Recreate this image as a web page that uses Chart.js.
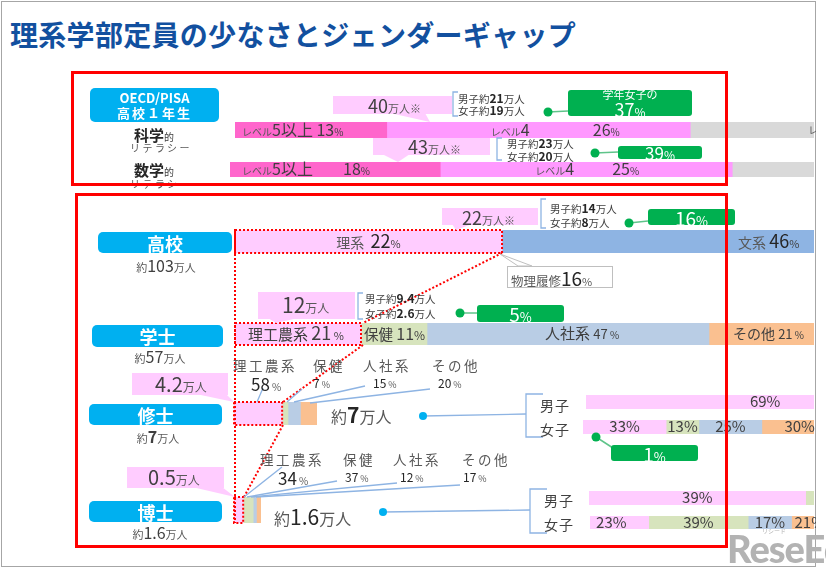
<!DOCTYPE html>
<html lang="ja">
<head>
<meta charset="UTF-8">
<title>理系学部定員の少なさとジェンダーギャップ</title>
<script src="https://cdn.jsdelivr.net/npm/chart.js"></script>
<style>
  body { margin: 0; background: #fff; font-family: "Noto Sans CJK JP", sans-serif; color: #404040; }
  #page { position: relative; width: 826px; height: 569px; overflow: hidden; }
  #page div, #page canvas, #page svg { position: absolute; }
  #page .tag div { position: static; }
  #bars, #notes { left: 0; top: 0; }
  .t { white-space: nowrap; line-height: 1; }
  .frame { border: 3px solid #ff0000; }
  .tag { background: #00b0f0; color: #fff; border-radius: 5px; font-weight: bold;
         display: flex; flex-direction: column; align-items: center; justify-content: center; text-align: center; }
  .pink { background: #ffccff; }
  .green { background: #00b050; color: #fff; border-radius: 3px; line-height: 1;
           display: flex; flex-direction: column; align-items: center; justify-content: center; }
</style>
</head>
<body>
<div id="page">
  <div style="left:1px;top:1px;width:813px;height:564px;border:1px solid #a6a6a6"></div>
  <div class="t" style="left:10px;top:20px;font-size:28px;font-weight:bold;color:#12509f;letter-spacing:0.3px">理系学部定員の少なさとジェンダーギャップ</div>

  <!-- pink callouts -->
  <div class="pink" style="left:333px;top:96px;width:119px;height:18px"></div>
  <div class="pink" style="left:373px;top:136px;width:117px;height:19px"></div>
  <div class="pink" style="left:442px;top:208px;width:96px;height:17px"></div>
  <div class="pink" style="left:258px;top:292px;width:97px;height:27px"></div>
  <div class="pink" style="left:132px;top:373px;width:96px;height:22px"></div>
  <div class="pink" style="left:127px;top:467px;width:97px;height:21px"></div>

  <div id="bars"></div>

  <svg width="826" height="569" style="left:0;top:0">
    <g fill="#ffccff">
      <polygon points="390,113 425,113 430,122"/>
      <polygon points="382,154 410,154 398,162"/>
      <polygon points="452,224 472,224 456,230"/>
      <polygon points="268,318 298,318 276,323"/>
      <polygon points="196,394 226,394 234,402"/>
      <polygon points="192,487 222,487 235,497"/>
    </g>
    <g stroke="#ff0000" stroke-width="2" stroke-dasharray="2 2" fill="none">
      <line x1="235" y1="230" x2="235" y2="523"/>
      <line x1="502" y1="253" x2="363" y2="323"/>
      <line x1="363" y1="345" x2="283" y2="402"/>
      <line x1="283" y1="425" x2="244" y2="497"/>
    </g>
    <g stroke="#8eb4e3" stroke-width="1.3" fill="none">
      <path d="M458 92 H453 V116 H458"/>
      <path d="M502 138 H497 V160 H502"/>
      <path d="M546 199 H541 V228 H546"/>
      <path d="M363 293 H358 V319 H363"/>
      <path d="M543 394 H526 V437 H543"/>
      <path d="M547 489 H530 V533 H547"/>
      <line x1="423" y1="416" x2="526" y2="414"/>
      <line x1="383" y1="512" x2="530" y2="510"/>
      <line x1="263" y1="388" x2="257" y2="402"/>
      <line x1="302" y1="389" x2="287" y2="402"/>
      <line x1="365" y1="386" x2="294" y2="402"/>
      <line x1="430" y1="389" x2="310" y2="403"/>
      <line x1="282" y1="467" x2="244" y2="497"/>
      <line x1="337" y1="481" x2="247" y2="497"/>
      <line x1="397" y1="483" x2="251" y2="497"/>
      <line x1="460" y1="485" x2="256" y2="497"/>
    </g>
    <g fill="#00b0f0">
      <circle cx="423" cy="416" r="4"/>
      <circle cx="383" cy="512" r="4"/>
    </g>
    <g stroke="#5fc48a" stroke-width="1.5">
      <line x1="548" y1="112" x2="568" y2="111"/>
      <line x1="595" y1="153" x2="618" y2="152"/>
      <line x1="629" y1="223" x2="648" y2="221"/>
      <line x1="460" y1="313" x2="477" y2="313"/>
      <line x1="596" y1="437" x2="613" y2="448"/>
    </g>
    <g fill="#00b050">
      <circle cx="548" cy="112" r="4.5"/>
      <circle cx="595" cy="153" r="4.5"/>
      <circle cx="629" cy="223" r="4.5"/>
      <circle cx="460" cy="313" r="4.5"/>
      <circle cx="596" cy="437" r="4.5"/>
    </g>
    <polygon points="500,254 518,266 532,266" fill="#fff" stroke="#bfbfbf"/>
  </svg>

  <!-- stage tags -->
  <div class="tag" style="left:90px;top:88px;width:129px;height:34px;font-size:13px;line-height:15px">
    <div>OECD/PISA</div><div style="letter-spacing:2px">高校１年生</div>
  </div>
  <div class="tag" style="left:98px;top:232px;width:134px;height:21px;font-size:18px">高校</div>
  <div class="tag" style="left:92px;top:325px;width:131px;height:22px;font-size:18px">学士</div>
  <div class="tag" style="left:89px;top:404px;width:133px;height:21px;font-size:18px">修士</div>
  <div class="tag" style="left:89px;top:501px;width:133px;height:21px;font-size:18px">博士</div>

  <!-- green boxes -->
  <div class="green" style="left:568px;top:90px;width:124px;height:26px">
    <span style="font-size:11px">学年女子の</span>
    <span><span style="font-size:18px">37</span><span style="font-size:12px">%</span></span>
  </div>
  <div class="green" style="left:618px;top:146px;width:84px;height:13px"><span><span style="font-size:17px">39</span><span style="font-size:12px">%</span></span></div>
  <div class="green" style="left:648px;top:209px;width:87px;height:16px"><span><span style="font-size:19px">16</span><span style="font-size:13px">%</span></span></div>
  <div class="green" style="left:477px;top:305px;width:87px;height:17px"><span><span style="font-size:19px">5</span><span style="font-size:13px">%</span></span></div>
  <div class="green" style="left:611px;top:445px;width:87px;height:16px"><span><span style="font-size:19px">1</span><span style="font-size:13px">%</span></span></div>

  <div style="left:507px;top:266px;width:104px;height:20px;border:1px solid #bfbfbf;background:#fff"></div>

  <div id="notes"></div>

  <div class="t" style="left:727px;top:529px;font-size:38px;font-weight:900;font-family:Lato,sans-serif;color:#b3b3b3;letter-spacing:-1px">ReseEd</div>
  <div class="t" style="left:762px;top:528px;font-size:6px;color:#b3b3b3">リシード</div>

  <div class="frame" style="left:71px;top:71px;width:651px;height:109px"></div>
  <div class="frame" style="left:75px;top:193px;width:647px;height:349px"></div>
</div>

<script>
// PISA 2015 習熟度レベル（高校1年生）
const pisaLevels = ['レベル5以上', 'レベル4', 'レベル3以下'];
const scienceShare = [13, 26, 61];
const mathShare = [18, 25, 57];

// 高校の文理
const hsTracks = ['理系', '文系'];
const hsShare = [22, 46];

// 学部・大学院の専攻分野
const fields = ['理工農系', '保健', '人社系', 'その他'];
const bachelorShare = [21, 11, 47, 21];
const masterShare = [58, 7, 15, 20];
const doctorShare = [34, 37, 12, 17];
const masterMale = [69, 4, 11, 16];
const masterFemale = [33, 13, 25, 30];
const doctorMale = [39, 36, 10, 15];
const doctorFemale = [23, 39, 17, 21];

const C = {
    lv5: '#ff66cc', lv4: '#ff99ff', gray: '#d9d9d9',
    pink: '#ffccff', bunkei: '#8eb4e3', hoken: '#d7e4bd', jinsha: '#b9cde5', other: '#fac090'
};
const fieldColors = [C.pink, C.hoken, C.jinsha, C.other];
const FONT = '"Noto Sans CJK JP", sans-serif';

// テキスト（HTML）
function note(x, cy, parts, center) {
    const d = document.createElement('div');
    const big = Math.max(...parts.map(p => p[1]));
    d.className = 't';
    d.style.left = x + 'px';
    d.style.top = (cy - big / 2) + 'px';
    d.style.fontSize = big + 'px';
    d.style.height = big + 'px';
    if (center) d.style.transform = 'translateX(-50%)';
    parts.forEach(p => {
        const s = document.createElement('span');
        s.textContent = p[0];
        s.style.fontSize = p[1] + 'px';
        if (p[2]) s.style.fontWeight = p[2];
        if (p[3]) s.style.color = p[3];
        if (p[4]) s.style.letterSpacing = p[4] + 'px';
        d.appendChild(s);
    });
    document.getElementById('notes').appendChild(d);
}

// バー内のラベル
const barText = {
    id: 'barText',
    afterDatasetsDraw(chart, args, opts) {
        const ctx = chart.ctx;
        ctx.save();
        (opts.items || []).forEach(it => {
            const el = chart.getDatasetMeta(it.ds).data[0];
            const x0 = Math.min(el.base, el.x), x1 = Math.max(el.base, el.x);
            let w = 0, big = 0;
            it.parts.forEach(p => {
                ctx.font = `${p[2] || 'normal'} ${p[1]}px ${FONT}`;
                w += ctx.measureText(String(p[0])).width;
                big = Math.max(big, p[1]);
            });
            let x = (it.align === 'start' ? x0 : (x0 + x1) / 2 - w / 2) + (it.dx || 0);
            const y = el.y + big * 0.36;
            it.parts.forEach(p => {
                ctx.font = `${p[2] || 'normal'} ${p[1]}px ${FONT}`;
                ctx.fillStyle = p[3] || '#404040';
                ctx.fillText(String(p[0]), x, y);
                x += ctx.measureText(String(p[0])).width;
            });
        });
        ctx.restore();
    }
};

// 理系部分の赤い点線枠
const outline = {
    id: 'outline',
    afterDatasetsDraw(chart, args, opts) {
        if (!opts.on) return;
        const el = chart.getDatasetMeta(0).data[0];
        const ctx = chart.ctx;
        ctx.save();
        ctx.strokeStyle = '#ff0000';
        ctx.lineWidth = 2;
        ctx.setLineDash([2, 2]);
        ctx.strokeRect(el.base, el.y - el.height / 2, el.x - el.base, el.height);
        ctx.restore();
    }
};

function drawBar(rect, values, colors, max, items, outlined) {
    const [x, y, w, h] = rect;
    const pad = 2;
    const cv = document.createElement('canvas');
    cv.width = w + pad * 2;
    cv.height = h + pad * 2;
    cv.style.left = (x - pad) + 'px';
    cv.style.top = (y - pad) + 'px';
    document.getElementById('bars').appendChild(cv);
    new Chart(cv, {
        type: 'bar',
        data: {
            labels: [''],
            datasets: values.map((v, i) => ({
                data: [v],
                backgroundColor: colors[i],
                borderWidth: 0,
                barPercentage: 1,
                categoryPercentage: 1
            }))
        },
        options: {
            indexAxis: 'y',
            responsive: false,
            animation: false,
            events: [],
            layout: { padding: pad },
            scales: {
                x: { stacked: true, min: 0, max: max, display: false },
                y: { stacked: true, display: false }
            },
            plugins: {
                legend: { display: false },
                tooltip: { enabled: false },
                barText: { items: items },
                outline: { on: !!outlined }
            }
        },
        plugins: [barText, outline]
    });
}

const G = '#595959';

// PISA 科学的リテラシー
drawBar([235, 122, 579, 16], scienceShare, [C.lv5, C.lv4, C.gray], 49.6, [
    { ds: 0, align: 'start', dx: 7, parts: [['レベル', 10, null, G], ['5以上 ', 16], [scienceShare[0], 16], ['%', 10]] },
    { ds: 1, align: 'start', dx: 104, parts: [['レベル', 10, null, G], ['4', 16]] },
    { ds: 1, align: 'start', dx: 206, parts: [[scienceShare[1], 16], ['%', 10]] },
    { ds: 2, align: 'start', dx: 118, parts: [['レ', 10, null, G]] }
]);
// PISA 数学的リテラシー
drawBar([230, 162, 584, 15], mathShare, [C.lv5, C.lv4, C.gray], 50, [
    { ds: 0, align: 'start', dx: 12, parts: [['レベル', 10, null, G], ['5以上', 16]] },
    { ds: 0, align: 'start', dx: 113, parts: [[mathShare[0], 16], ['%', 10]] },
    { ds: 1, align: 'start', dx: 95, parts: [['レベル', 10, null, G], ['4', 16]] },
    { ds: 1, align: 'start', dx: 172, parts: [[mathShare[1], 16], ['%', 10]] }
]);
// 高校
drawBar([235, 230, 579, 23], hsShare, [C.pink, C.bunkei], 47.7, [
    { ds: 0, align: 'center', parts: [[hsTracks[0] + '  ', 14, null, G], [hsShare[0], 18, null, '#262626'], ['%', 11]] },
    { ds: 1, align: 'start', dx: 236, parts: [[hsTracks[1] + ' ', 14, null, G], [hsShare[1], 18, null, '#262626'], ['%', 11]] }
], true);
// 学士
drawBar([235, 323, 579, 22], bachelorShare, fieldColors, 96.5, [
    { ds: 0, align: 'start', dx: 13, parts: [[fields[0] + ' ', 15], [bachelorShare[0], 18], [' %', 11]] },
    { ds: 1, align: 'start', dx: 3, parts: [[fields[1] + ' ', 14.5], [bachelorShare[1], 16], ['%', 12]] },
    { ds: 2, align: 'center', dx: 14, parts: [[fields[2] + ' ', 15], [bachelorShare[2], 13], [' %', 10]] },
    { ds: 3, align: 'start', dx: 24, parts: [[fields[3] + ' ', 14], [bachelorShare[3], 13], [' %', 10]] }
], true);
// 修士・博士
drawBar([234, 402, 83, 23], masterShare, fieldColors, 100, [], true);
drawBar([234, 497, 27, 26], doctorShare, fieldColors, 100, [], true);
// 男女別
const pct = (v, s) => [v + '%', s || 14];
drawBar([586, 395, 228, 14], masterMale, fieldColors, 43.9, [
    { ds: 0, align: 'center', parts: [pct(masterMale[0], 15)] }
]);
drawBar([583, 420, 231, 14], masterFemale, fieldColors, 91.7, [0, 1, 2, 3].map(i => (
    { ds: i, align: 'center', parts: [pct(masterFemale[i], 15)] }
)));
drawBar([589, 491, 225, 14], doctorMale, fieldColors, 40.5, [
    { ds: 0, align: 'center', parts: [pct(doctorMale[0], 15)] }
]);
drawBar([590, 516, 224, 13], doctorFemale, fieldColors, 87.8, [
    { ds: 0, align: 'center', dx: -8, parts: [pct(doctorFemale[0], 15)] },
    { ds: 1, align: 'center', parts: [pct(doctorFemale[1], 15)] },
    { ds: 2, align: 'center', parts: [pct(doctorFemale[2], 15)] },
    { ds: 3, align: 'start', dx: 3, parts: [pct(doctorFemale[3], 15)] }
]);

// 左側の見出し
note(154, 134, [['科学', 15, 'bold', '#262626'], ['的', 10]], true);
note(161, 148, [['リテラシー', 10, null, G, 2.4]], true);
note(154, 169, [['数学', 15, 'bold', '#262626'], ['的', 10]], true);
note(161, 184, [['リテラシー', 10, null, G, 2.4]], true);
note(166, 265, [['約', 11, null, G], ['103', 16], ['万人', 11, null, G]], true);
note(160, 356, [['約', 11, null, G], ['57', 16], ['万人', 11, null, G]], true);
note(158, 436, [['約', 11, null, G], ['7', 16, 'bold'], ['万人', 11, null, G]], true);
note(160, 532, [['約', 11, null, G], ['1.6', 16], ['万人', 11, null, G]], true);

// 吹き出しの人数
note(368, 105, [['40', 18], ['万人※', 11, null, G]]);
note(408, 146, [['43', 18], ['万人※', 11, null, G]]);
note(462, 217, [['22', 18], ['万人※', 11, null, G]]);
note(282, 304, [['12', 21], ['万人', 12, null, G]]);
note(155, 384, [['4.2', 20], ['万人', 12, null, G]]);
note(148, 477, [['0.5', 20], ['万人', 12, null, G]]);

// 男女の内訳
const mf = (x, y1, y2, m, f) => {
    note(x, y1, [['男子約', 10.5], [m, 12, 'bold', '#262626'], ['万人', 10.5]]);
    note(x, y2, [['女子約', 10.5], [f, 12, 'bold', '#262626'], ['万人', 10.5]]);
};
mf(458, 98, 110, '21', '19');
mf(507, 143, 156, '23', '20');
mf(550, 208, 222, '14', '8');
mf(365, 298, 313, '9.4', '2.6');

note(511, 277, [['物理履修', 12.5, null, G], ['16', 19, null, '#262626'], ['%', 11, null, G]]);

// 修士・博士の分野別構成
const headX1 = [233, 313, 363, 432], pctX1 = [251, 313, 373, 438];
const headX2 = [260, 343, 393, 462], pctX2 = [278, 345, 400, 463];
fields.forEach((f, i) => {
    note(headX1[i], 366, [[f, 13.5, null, G, 2.5]]);
    note(pctX1[i], 383, i === 0 ? [[masterShare[i], 17, null, '#262626'], [' %', 10, null, G]] : [[masterShare[i], 12, null, '#262626'], [' %', 9, null, G]]);
    note(headX2[i], 460, [[f, 13.5, null, G, 2.5]]);
    note(pctX2[i], 477, i === 0 ? [[doctorShare[i], 17, null, '#262626'], [' %', 10, null, G]] : [[doctorShare[i], 12, null, '#262626'], [' %', 9, null, G]]);
});

note(331, 414, [['約', 16, null, G], ['7', 21, 'bold', '#262626'], ['万人', 16, null, G]]);
note(274, 516, [['約', 16, null, G], ['1.6', 21, null, '#262626'], ['万人', 16, null, G]]);

note(540, 405, [['男子', 14, null, '#404040', 1]]);
note(540, 429, [['女子', 14, null, '#404040', 1]]);
note(544, 500, [['男子', 14, null, '#404040', 1]]);
note(544, 524, [['女子', 14, null, '#404040', 1]]);
</script>
</body>
</html>
